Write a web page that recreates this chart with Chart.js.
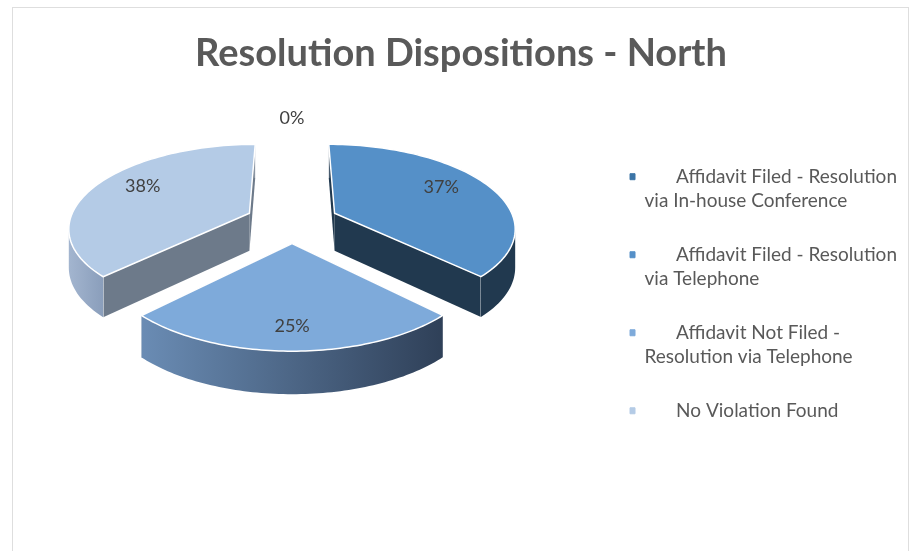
<!DOCTYPE html>
<html>
<head>
<meta charset="utf-8">
<script src="https://cdn.jsdelivr.net/npm/chart.js@4"></script>
<style>
    html, body { margin: 0; padding: 0; background: #fff; overflow: hidden; }
    #wrap { position: relative; width: 910px; height: 551px; overflow: hidden; }
    #frame { position: absolute; left: 12px; top: 7px; width: 897px; height: 600px; border: 1.5px solid #dedede; box-sizing: border-box; }
    canvas { position: absolute; left: 0; top: 0; }
</style>
</head>
<body>
<div id="wrap">
    <div id="frame"></div>
    <canvas id="chart" width="910" height="551"></canvas>
</div>
<script>
const indent = '      \u2009';
const categories = [
    [indent + 'Affidavit Filed - Resolution', 'via In-house Conference'],
    [indent + 'Affidavit Filed - Resolution', 'via Telephone'],
    [indent + 'Affidavit Not Filed -', 'Resolution via Telephone'],
    [indent + 'No Violation Found']
];
// the 25% slice sits square on the bottom, so the other two are close to 37.5 each
const values = [0, 37.49, 25, 37.51];
const topColors = ['#3c74a6', '#5590c8', '#7eaada', '#b4cbe6'];
const wallColors = ['#22384d', '#21394f', '#2f4058', '#6d7a8a'];
const rimFrom = ['#22384d', '#21394f', '#6a8cb4', '#a3b5cf'];
const rimTo = ['#22384d', '#21394f', '#2f4058', '#8a9ebb'];

// perspective of the tilted disc, fitted to the far/near rim of the slices
const lens = { cx: 292, cy: 221.3, x: 180, y: 82.3, k: 0.16, explode: 0.26 };
const depthBase = 38;
const depthGrow = 4;
const labelRadius = [1.31, 0.69, 0.8, 0.69];
const labelNudge = [0, -6, 0, -7];

function midOf(arc) {
    return (arc.startAngle + arc.endAngle) / 2;
}

function project(mid, angle, f = 1) {
    const u = lens.explode * Math.cos(mid) + f * Math.cos(angle);
    const v = lens.explode * Math.sin(mid) + f * Math.sin(angle);
    const w = 1 - lens.k * v;
    return {
        x: lens.cx + lens.x * u / w,
        y: lens.cy + lens.y * v / w,
        depth: depthBase + depthGrow * v
    };
}

function rimPoints(arc) {
    const pts = [];
    const steps = 80;
    const mid = midOf(arc);
    for (let s = 0; s <= steps; s++) {
        pts.push(project(mid, arc.startAngle + arc.circumference * s / steps));
    }
    return pts;
}

function drawWall(ctx, arc, angle, color) {
    const mid = midOf(arc);
    const tip = project(mid, mid, 0);
    const p = project(mid, angle);
    ctx.beginPath();
    ctx.moveTo(tip.x, tip.y);
    ctx.lineTo(p.x, p.y);
    ctx.lineTo(p.x, p.y + p.depth);
    ctx.lineTo(tip.x, tip.y + tip.depth);
    ctx.closePath();
    ctx.fillStyle = color;
    ctx.fill();
    ctx.beginPath();
    ctx.moveTo(p.x, p.y);
    ctx.lineTo(p.x, p.y + p.depth);
    ctx.strokeStyle = 'rgba(255,255,255,0.7)';
    ctx.lineWidth = 1;
    ctx.stroke();
}

function drawRim(ctx, arc, i) {
    // only the part of the rim running right to left faces the viewer
    const all = rimPoints(arc);
    const pts = all.filter((p, n) =>
        (n < all.length - 1 && all[n + 1].x < p.x) || (n > 0 && p.x < all[n - 1].x));
    if (pts.length < 2) return;
    const xs = pts.map(p => p.x);
    const grad = ctx.createLinearGradient(Math.min(...xs), 0, Math.max(...xs), 0);
    grad.addColorStop(0, rimFrom[i]);
    grad.addColorStop(1, rimTo[i]);
    ctx.beginPath();
    pts.forEach((p, n) => n ? ctx.lineTo(p.x, p.y) : ctx.moveTo(p.x, p.y));
    pts.slice().reverse().forEach(p => ctx.lineTo(p.x, p.y + p.depth));
    ctx.closePath();
    ctx.fillStyle = grad;
    ctx.fill();
}

function drawTop(ctx, arc) {
    const mid = midOf(arc);
    const tip = project(mid, mid, 0);
    ctx.beginPath();
    ctx.moveTo(tip.x, tip.y);
    rimPoints(arc).forEach(p => ctx.lineTo(p.x, p.y));
    ctx.closePath();
    ctx.fillStyle = arc.options.backgroundColor;
    ctx.fill();
    ctx.strokeStyle = arc.options.borderColor;
    ctx.lineWidth = arc.options.borderWidth;
    ctx.lineJoin = 'round';
    ctx.stroke();
}

// chart.js has no 3d pie, so the arcs it computes get tilted and extruded here
const pie3d = {
    id: 'pie3d',
    beforeDatasetDraw(chart, args) {
        const ctx = chart.ctx;
        const arcs = args.meta.data.map((arc, i) => ({ arc, i }));
        arcs.sort((p, q) => Math.sin(midOf(p.arc)) - Math.sin(midOf(q.arc)));
        arcs.forEach(({ arc, i }) => {
            if (values[i] === 0) return;
            drawWall(ctx, arc, arc.startAngle, wallColors[i]);
            drawWall(ctx, arc, arc.endAngle, wallColors[i]);
            drawRim(ctx, arc, i);
            drawTop(ctx, arc);
        });
        return false;
    },
    afterDatasetsDraw(chart) {
        const ctx = chart.ctx;
        ctx.save();
        ctx.font = '18px Lato';
        ctx.fillStyle = '#404040';
        ctx.textAlign = 'center';
        ctx.textBaseline = 'middle';
        chart.getDatasetMeta(0).data.forEach((arc, i) => {
            const mid = midOf(arc);
            const p = project(mid, mid, labelRadius[i]);
            ctx.fillText(Math.round(values[i]) + '%', p.x, p.y + labelNudge[i]);
        });
        ctx.restore();
    }
};

new Chart(document.getElementById('chart'), {
    type: 'pie',
    plugins: [pie3d],
    data: {
        labels: categories,
        datasets: [{
            data: values,
            backgroundColor: topColors,
            borderColor: '#ffffff',
            borderWidth: 1.5
        }]
    },
    options: {
        responsive: false,
        animation: false,
        layout: { padding: { bottom: -42, right: 3, left: 15 } },
        plugins: {
            tooltip: { enabled: false },
            title: {
                display: true,
                text: 'Resolution Dispositions - North',
                color: '#595959',
                font: { family: 'Lato', size: 38, weight: 'bold' },
                padding: { top: 31, bottom: 10 }
            },
            legend: {
                position: 'right',
                labels: {
                    boxWidth: 5,
                    boxHeight: 6,
                    padding: 29,
                    color: '#595959',
                    font: { family: 'Lato', size: 19, lineHeight: 1.29 },
                    generateLabels(chart) {
                        const base = Chart.overrides.pie.plugins.legend.labels.generateLabels(chart);
                        return base.map(item => ({ ...item, strokeStyle: item.fillStyle, lineWidth: 1 }));
                    }
                }
            }
        }
    }
});
</script>
</body>
</html>
